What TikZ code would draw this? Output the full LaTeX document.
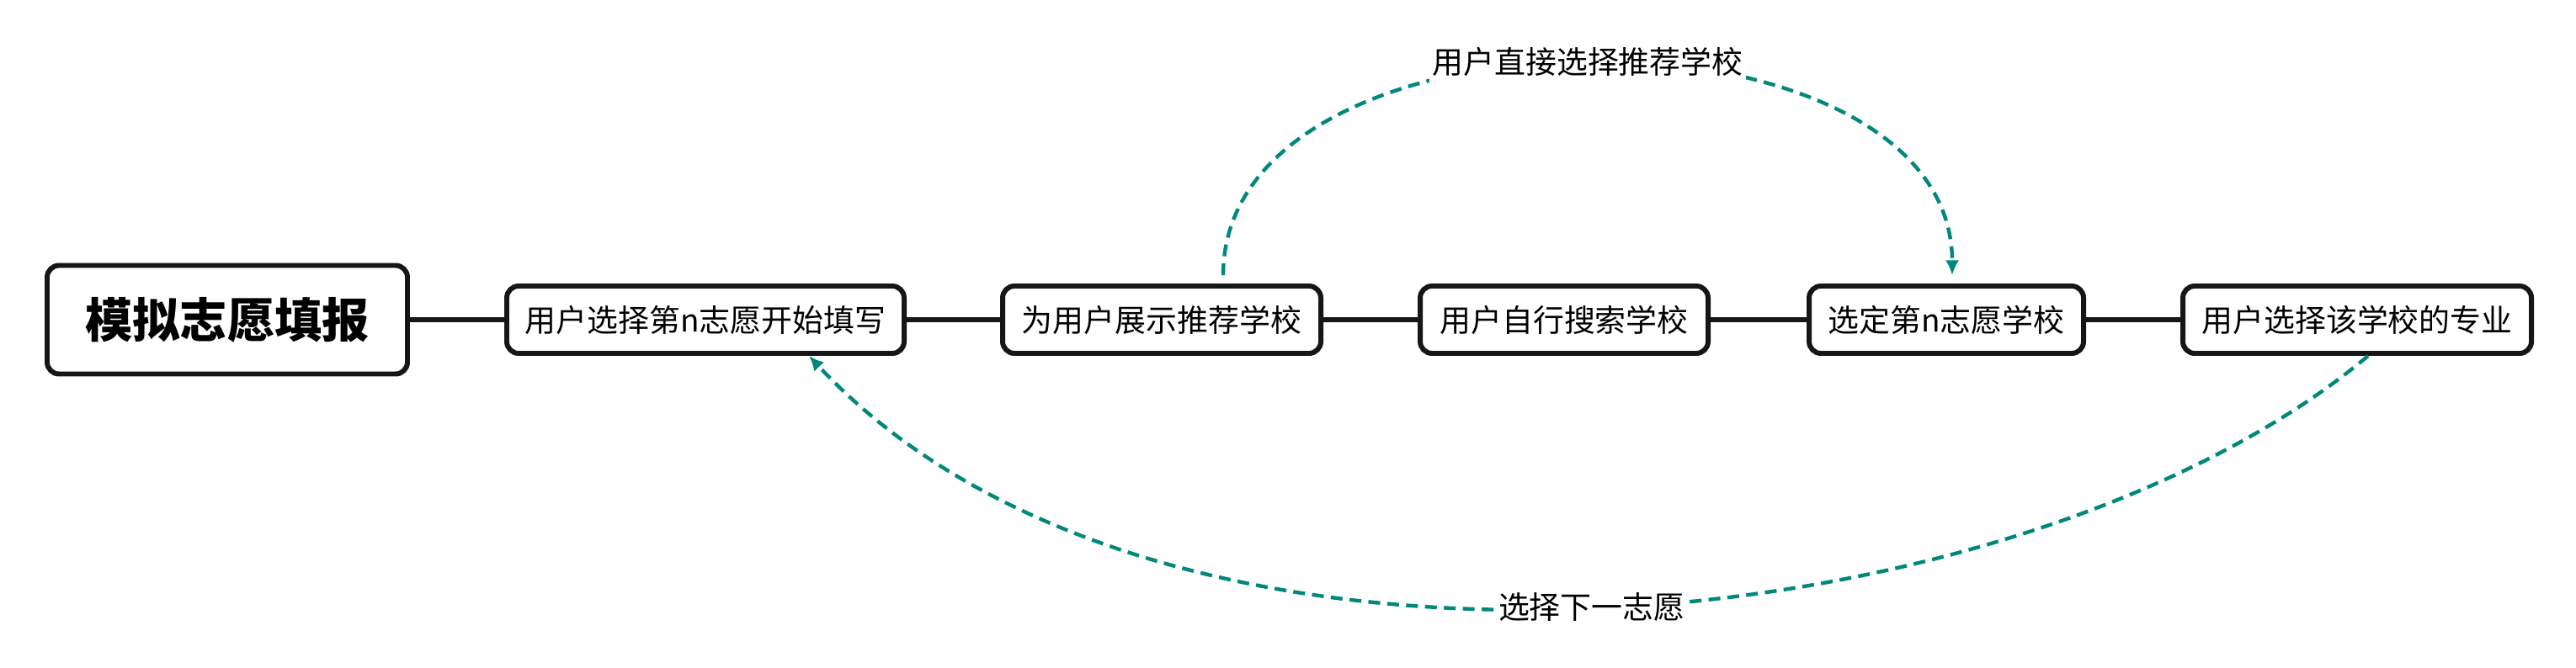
\documentclass[tikz,border=0pt]{standalone}
\usepackage{fontspec}
\setmainfont{Noto Sans CJK SC}
\usetikzlibrary{arrows.meta}
\definecolor{linkteal}{HTML}{00897B}
\definecolor{boxline}{HTML}{161616}

\begin{document}
\begin{tikzpicture}
[
stepbox/.style={draw=boxline,line width=1.7pt,rounded corners=4pt,fill=white,minimum width=#1,minimum height=0.8cm,inner sep=0pt,font=\fontsize{10.5}{12}\selectfont},
rootbox/.style={stepbox=#1,minimum height=1.29cm,font=\fontsize{16}{19}\selectfont\bfseries},
trunk/.style={draw=boxline,line width=1.6pt},
loopback/.style={draw=linkteal,line width=1.25pt,dash pattern=on 4pt off 2.4pt,-{Latex[length=5pt,width=4.6pt]}},
looplabel/.style={fill=white,inner xsep=1pt,inner ysep=2pt,font=\fontsize{10.5}{12}\selectfont},
]
\useasboundingbox (0,0) rectangle (30.6,7.93);

%Place the nodes
\node[rootbox=4.28cm] (root) at (2.70,4.13) {模拟志愿填报};
\node[stepbox=4.72cm] (begin) at (8.38,4.13) {用户选择第n志愿开始填写};
\node[stepbox=3.78cm] (show) at (13.80,4.13) {为用户展示推荐学校};
\node[stepbox=3.42cm] (search) at (18.58,4.13) {用户自行搜索学校};
\node[stepbox=3.26cm] (pick) at (23.12,4.13) {选定第n志愿学校};
\node[stepbox=4.14cm] (major) at (28.00,4.13) {用户选择该学校的专业};

%Draw the connections
\draw[trunk] (root) -- (begin);
\draw[trunk] (begin) -- (show);
\draw[trunk] (show) -- (search);
\draw[trunk] (search) -- (pick);
\draw[trunk] (pick) -- (major);

%Loops back
\draw[loopback] ([xshift=7.3mm,yshift=1mm]show.north) .. controls +(0,3.375) and +(0,3.375) .. ([xshift=0.7mm,yshift=1mm]pick.north) node[looplabel,midway] {用户直接选择推荐学校};
\draw[loopback] ([xshift=1.3mm]major.south) .. controls +(-4.11,-3.45) and +(4.21,-4.52) .. ([xshift=12.3mm]begin.south) node[looplabel,midway] {选择下一志愿};
\end{tikzpicture}
\end{document}
